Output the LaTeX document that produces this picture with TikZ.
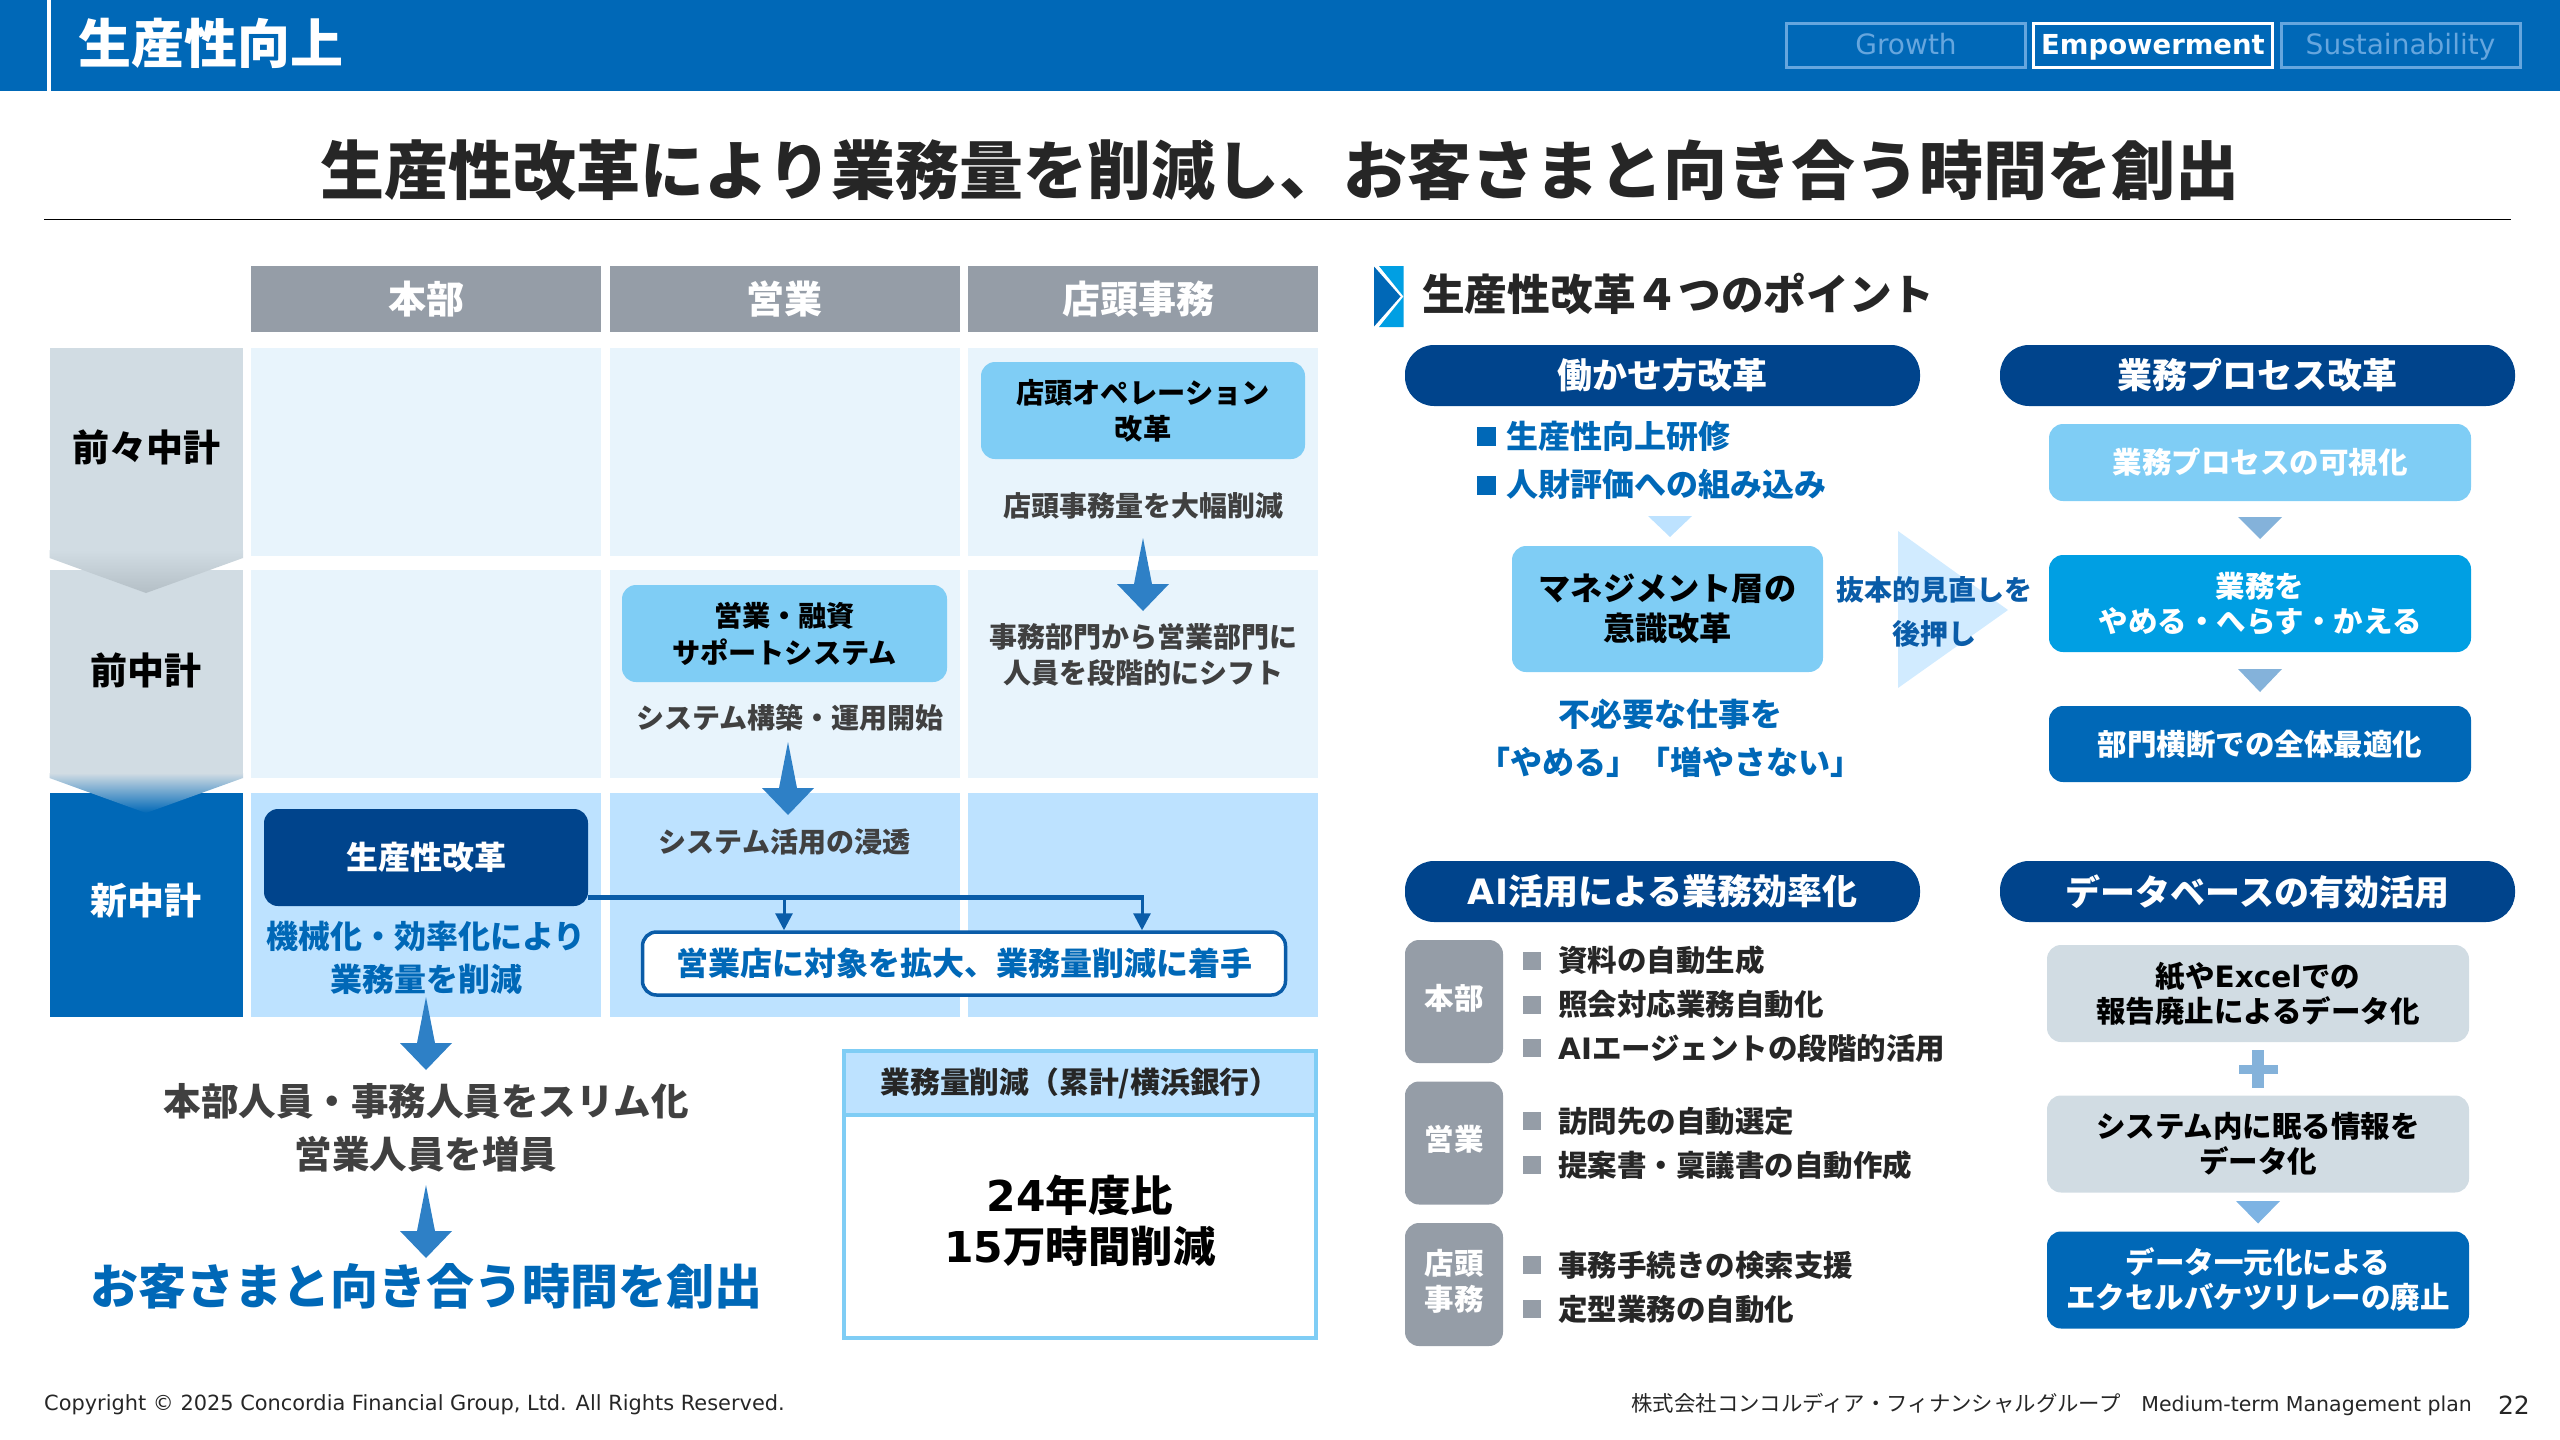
\documentclass[tikz,border=0pt]{standalone}
\usepackage{fontspec}
\setmainfont{Noto Sans CJK JP}
\newfontfamily\lat{DejaVu Sans}
\usetikzlibrary{arrows.meta}
\definecolor{barblue}{HTML}{0068B7}
\definecolor{navy}{HTML}{00448C}
\definecolor{skybox}{HTML}{7FCDF5}
\definecolor{aqua}{HTML}{009FE3}
\definecolor{headgrey}{HTML}{959DA7}
\definecolor{palegrey}{HTML}{D1DCE3}
\definecolor{tipgrey}{HTML}{B4BFC6}
\definecolor{cellpale}{HTML}{E8F4FC}
\definecolor{cellblue}{HTML}{BDE2FF}
\definecolor{arrowblue}{HTML}{2E80C6}
\definecolor{linkblue}{HTML}{0A5CA8}
\definecolor{tabblue}{HTML}{66A6DE}
\definecolor{inkgrey}{HTML}{404040}
\definecolor{inkdark}{HTML}{262626}
\definecolor{trimid}{HTML}{84B2DA}
\newcommand{\fs}[2]{\fontsize{#1}{#2}\selectfont}
\newcommand{\bigdown}[2]{\fill[arrowblue] (#1,#2) -- ++(9,46) -- ++(17,0) -- ++(-26,27) -- ++(-26,-27) -- ++(17,0) -- cycle;}
\newcommand{\smalltri}[4]{\fill[#4] (#1-22,#2) -- (#1+22,#2) -- (#1,#3) -- cycle;}
\tikzset{
  every node/.style={align=center, inner sep=0pt, font=\bfseries},
  headcell/.style={fill=headgrey, text=white, minimum width=350pt, minimum height=66pt, font=\bfseries\fs{38}{44}},
  cell/.style={minimum width=350pt},
  softbox/.style={rounded corners=14pt},
  cellnote/.style={text=inkgrey, font=\bfseries\fs{28}{36}},
  bluenote/.style={text=barblue, font=\bfseries\fs{32}{43}},
  pillhead/.style={fill=navy, text=white, rounded corners=29pt, minimum width=515pt, minimum height=61pt, font=\bfseries\fs{35}{40}},
  stepbox/.style={softbox, minimum width=422pt, font=\bfseries\fs{29.5}{35}},
  tagbox/.style={softbox, fill=headgrey, text=white, minimum width=98pt, minimum height=123pt, text depth=10pt, font=\bfseries\fs{29.5}{36}},
  itemtext/.style={anchor=west, text=inkdark, font=\bfseries\fs{29.5}{35}},
  blueitem/.style={anchor=west, text=barblue, font=\bfseries\fs{32}{38}},
  tabbox/.style={draw=tabblue, line width=3pt, text=tabblue, minimum width=239pt, minimum height=44pt, text height=25pt, text depth=6pt, font=\lat\fs{28}{34}\mdseries},
  flowline/.style={draw=linkblue, line width=5pt},
  flowarrow/.style={draw=linkblue, line width=3pt, -{Triangle[length=17pt,width=17pt]}}
}
\begin{document}
\begin{tikzpicture}[x=1pt, y=-1pt]
\useasboundingbox (0,0) rectangle (2560,1440);

% header bar
\fill[barblue] (0,0) rectangle (2560,91);
\fill[white] (47,0) rectangle (51,91);
\node (section) [anchor=west, text=white, font=\bfseries\fs{53}{60}] at (78,43) {生産性向上};
\node (growth) [tabbox] at (1906,45) {Growth};
\node (empower) [tabbox, draw=white, text=white, font=\lat\bfseries\fs{27.5}{34}] at (2153,45) {Empowerment};
\node (sustain) [tabbox] at (2400.5,45) {Sustainability};

% title
\node (title) [text=inkdark, font=\bfseries\fs{64}{72}] at (1280,170) {生産性改革により業務量を削減し、お客さまと向き合う時間を創出};
\draw[black, line width=1.5pt] (44,219.5) -- (2511,219.5);

% table heads
\node (honbu) [headcell] at (426,299) {本部};
\node (eigyo) [headcell] at (784.5,299) {営業};
\node (tento) [headcell] at (1143,299) {\hspace*{-10pt}店頭事務};

% table cells
\foreach \cx in {426,784.5,1143} {
  \node [cell, fill=cellpale, minimum height=208pt] at (\cx,452) {};
  \node [cell, fill=cellpale, minimum height=208pt] at (\cx,674) {};
  \node [cell, fill=cellblue, minimum height=224pt] at (\cx,905) {};
}

% plan periods
\fill[barblue] (49.5,793) rectangle (243,1017);
\fill[palegrey] (49.5,570) rectangle (243,773);
\shade[top color=palegrey, bottom color=barblue] (49.5,773) -- (243,773) -- (243,778) -- (146,813) -- (49.5,778) -- cycle;
\fill[palegrey] (49.5,348) rectangle (243,550);
\shade[top color=palegrey, bottom color=tipgrey] (49.5,550) -- (243,550) -- (243,558) -- (146,593) -- (49.5,558) -- cycle;
\node (plana) [font=\bfseries\fs{37}{44}, text=black] at (146,447) {前々中計};
\node (planb) [font=\bfseries\fs{37}{44}, text=black] at (146,670) {前中計};
\node (planc) [font=\bfseries\fs{37}{44}, text=white] at (146,900) {新中計};

% table contents
\node (operation) [softbox, fill=skybox, minimum width=324pt, minimum height=97pt, text=black, font=\bfseries\fs{28.2}{36}] at (1143,410.5) {店頭オペレーション\\改革};
\node (opnote) [cellnote] at (1143,506) {店頭事務量を大幅削減};
\node (support) [softbox, fill=skybox, minimum width=325pt, minimum height=97pt, text=black, font=\bfseries\fs{28.2}{37}] at (784.5,633.5) {営業・融資\\サポートシステム};
\node (supnote) [cellnote] at (790,718) {システム構築・運用開始};
\node (shift) [cellnote] at (1143,655) {事務部門から営業部門に\\人員を段階的にシフト};
\node (usage) [cellnote] at (784.5,842) {システム活用の浸透};
\node (seisan) [softbox, fill=navy, text=white, minimum width=324pt, minimum height=97pt, font=\bfseries\fs{32}{36}] at (426,857.5) {生産性改革};
\node (kikai) [bluenote] at (426,958) {機械化・効率化により\\業務量を削減};
\node (kakudai) [softbox, draw=linkblue, line width=3.5pt, fill=white, text=barblue, minimum width=643pt, minimum height=63pt, font=\bfseries\fs{32}{38}] at (964,963.5) {営業店に対象を拡大、業務量削減に着手};
\coordinate (brancha) at (784,897);
\coordinate (branchb) at (1142,897);
\draw[flowline] (seisan.east |- brancha) -- ([xshift=1.5pt]branchb);
\draw[flowarrow] (brancha) -- (brancha |- kakudai.north);
\draw[flowarrow] (branchb) -- (branchb |- kakudai.north);
\bigdown{1143}{538}
\bigdown{788}{742}
\bigdown{426}{997}
\bigdown{426}{1185}

% below the table
\node (staff) [text=inkgrey, font=\bfseries\fs{37.5}{53}] at (426,1128) {本部人員・事務人員をスリム化\\営業人員を増員};
\node (create) [text=barblue, font=\bfseries\fs{48}{52}] at (426,1286) {お客さまと向き合う時間を創出};
\node (cutbox) [draw=skybox, line width=4pt, minimum width=472pt, minimum height=287pt] at (1080,1194) {};
\node (cuthead) [draw=skybox, line width=4pt, fill=cellblue, minimum width=472pt, minimum height=64pt, text=inkdark, font=\bfseries\fs{29.8}{35}] at (1080,1083) {業務量削減（累計/横浜銀行）};
\node (cutnote) [text=black, font=\bfseries\fs{42.5}{51}] at (1080,1221) {{\lat 24}年度比\\{\lat 15}万時間削減};

% four points
\fill[barblue] (1374,266.5) -- (1400.5,296.5) -- (1374,326.5) -- cycle;
\fill[aqua] (1379,266) -- (1403.5,266) -- (1403.5,327) -- (1379,327) -- (1403.5,296.5) -- cycle;
\node (points) [anchor=west, text=inkdark, font=\bfseries\fs{42.7}{48}] at (1422,294) {生産性改革４つのポイント};

\node (worksty) [pillhead] at (1662.5,375.5) {働かせ方改革};
\node (process) [pillhead] at (2257.5,375.5) {業務プロセス改革};
\node (aiuse) [pillhead] at (1662.5,891.5) {{\lat AI}活用による業務効率化};
\node (datause) [pillhead] at (2257.5,891.5) {データベースの有効活用};

% work style
\fill[barblue] (1477,426.5) rectangle (1496,445.5);
\fill[barblue] (1477,475.5) rectangle (1496,494.5);
\node (train) [blueitem] at (1506,436) {生産性向上研修};
\node (hrval) [blueitem] at (1506,484) {人財評価への組み込み};
\smalltri{1670}{516}{537}{cellblue}
\fill[cellblue!70!white] (1898,531) -- (2008,610) -- (1898,688) -- cycle;
\node (manage) [softbox, fill=skybox, minimum width=311pt, minimum height=126pt, text=black, font=\bfseries\fs{32.2}{40}] at (1667.5,609) {マネジメント層の\\意識改革};
\node (push) [text=linkblue, font=\bfseries\fs{28}{44}] at (1934,612) {抜本的見直しを\\後押し};
\node (stop) [text=barblue, font=\bfseries\fs{32}{48}] at (1670,738.5) {不必要な仕事を\\「やめる」「増やさない」};

% process
\node (visual) [stepbox, fill=skybox, text=white, minimum height=77pt] at (2260,462.5) {業務プロセスの可視化};
\smalltri{2260}{517}{539}{trimid}
\node (reduce) [stepbox, fill=aqua, text=white, minimum height=97pt] at (2260,603.5) {業務を\\やめる・へらす・かえる};
\smalltri{2260}{669}{692}{trimid}
\node (cross) [stepbox, fill=barblue, text=white, minimum height=76pt] at (2260,744) {部門横断での全体最適化};

% ai use
\node (taga) [tagbox] at (1454,1001.5) {本部};
\node (tagb) [tagbox] at (1454,1143) {営業};
\node (tagc) [tagbox] at (1454,1284.5) {店頭\\事務};
\foreach \iy/\itxt in {960.5/資料の自動生成, 1004.5/照会対応業務自動化, 1048/{{\lat AI}エージェントの段階的活用}, 1121/訪問先の自動選定, 1165/提案書・稟議書の自動作成, 1265/事務手続きの検索支援, 1309/定型業務の自動化} {
  \fill[headgrey] (1523,\iy-9) rectangle (1541,\iy+9);
  \node [itemtext] at (1558,\iy) {\itxt};
}

% data use
\node (paper) [stepbox, fill=palegrey, text=black, minimum height=97pt] at (2258,993.5) {紙や{\lat Excel}での\\報告廃止によるデータ化};
\fill[trimid] (2238.5,1064.5) rectangle (2277.5,1073.5);
\fill[trimid] (2252,1050) rectangle (2264,1088);
\node (sysinfo) [stepbox, fill=palegrey, text=black, minimum height=97pt] at (2258,1144) {システム内に眠る情報を\\データ化};
\smalltri{2258}{1201}{1223.5}{tabblue!85!white}
\node (unify) [stepbox, fill=barblue, text=white, minimum height=97pt] at (2258,1280) {データ一元化による\\エクセルバケツリレーの廃止};

% footer
\node (copy) [anchor=west, text=inkdark, font=\lat\mdseries\fs{20.9}{26}] at (44,1405) {Copyright © 2025 Concordia Financial Group, Ltd. All Rights Reserved.};
\node (plan) [anchor=east, text=inkdark, font=\mdseries\fs{21.4}{26}] at (2472,1405) {株式会社コンコルディア・フィナンシャルグループ\hspace{21pt}{\lat\fontsize{20.5}{26}\selectfont Medium-term Management plan}};
\node (page) [anchor=east, text=inkdark, font=\lat\mdseries\fs{25}{28}] at (2530,1405) {22};
\end{tikzpicture}
\end{document}
